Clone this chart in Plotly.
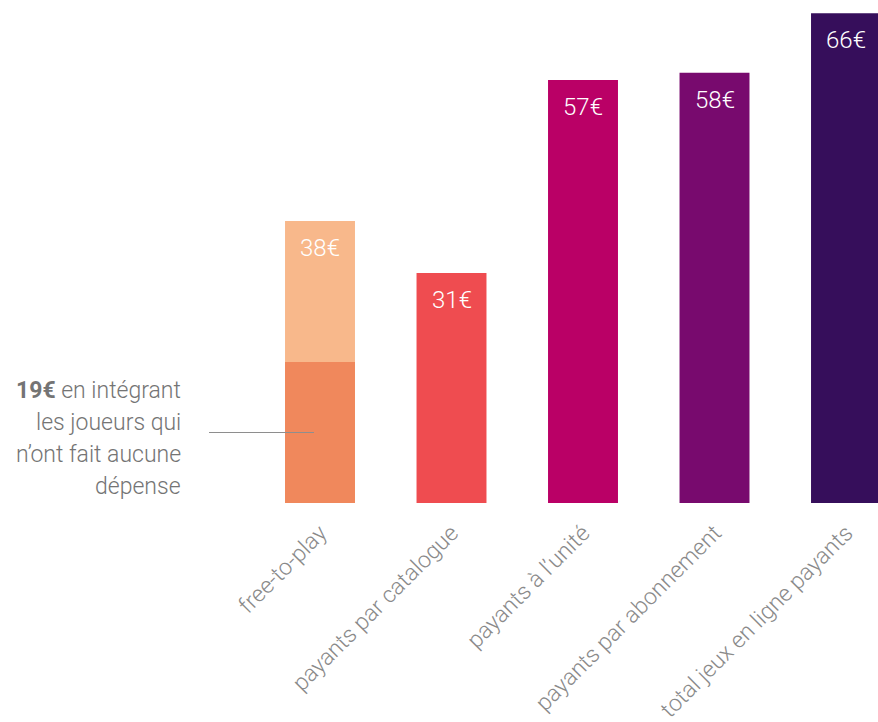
import plotly.graph_objects as go

# Average spend per paying player, by online game type
categories = [
    "free-to-play",
    "payants par catalogue",
    "payants à l’unité",
    "payants par abonnement",
    "total jeux en ligne payants",
]
spend = [38, 31, 57, 58, 66]
bar_colors = ["#F8B88B", "#EF4C50", "#BA0066", "#780A6E", "#360E5B"]

# Free-to-play average once non-spending players are included
ftp_all_players = 19
ftp_all_color = "#F0885C"

note_lines = [
    "<b>19€</b> en intégrant",
    "les joueurs qui",
    "n’ont fait aucune",
    "dépense",
]

FONT = "Roboto"
PLOT_H = 503  # pixel height of the plotting area
x_idx = list(range(len(categories)))

fig = go.Figure()
fig.add_trace(go.Bar(
    x=x_idx, y=spend, width=0.532,
    marker=dict(color=bar_colors, line=dict(width=0)),
    hoverinfo="skip",
))
fig.add_trace(go.Bar(
    x=[0], y=[ftp_all_players], width=0.532,
    marker=dict(color=ftp_all_color, line=dict(width=0)),
    hoverinfo="skip",
))

# value labels inside the top of each bar
for i, v in zip(x_idx, spend):
    fig.add_annotation(
        x=i, y=v, xref="x", yref="y", text=f"{v}€", showarrow=False,
        yanchor="middle", yshift=-27,
        font=dict(family=FONT, size=24, color="#FFFFFF", weight=300),
    )

# leader line pointing into the darker free-to-play segment
fig.add_shape(
    type="line", xref="x", yref="y",
    x0=-0.844, x1=-0.046, y0=ftp_all_players / 2, y1=ftp_all_players / 2,
    line=dict(color="#8E8E8E", width=1.2),
)

note_y = [390, 422, 454, 486]
for txt, py in zip(note_lines, note_y):
    fig.add_annotation(
        x=183 / 878, y=(PLOT_H - py) / PLOT_H, xref="paper", yref="paper",
        text=txt, showarrow=False, xanchor="right", yanchor="middle",
        align="right",
        font=dict(family=FONT, size=23, color="#747474", weight=300),
    )

fig.update_layout(
    width=878, height=722,
    margin=dict(l=0, r=0, t=0, b=722 - PLOT_H),
    barmode="overlay",
    showlegend=False,
    plot_bgcolor="white", paper_bgcolor="white",
    xaxis=dict(
        range=[-2.4335, 4.2433],
        tickmode="array", tickvals=x_idx, ticktext=categories,
        tickangle=-45, showgrid=False, zeroline=False, showline=False,
        ticks="", ticklabelstandoff=11, automargin=False,
        tickfont=dict(family=FONT, size=23, color="#8A8A8A", weight=300),
    ),
    yaxis=dict(
        range=[0, 67.79], visible=False, showgrid=False, zeroline=False,
        fixedrange=True,
    ),
)

fig.write_html("out.html")
